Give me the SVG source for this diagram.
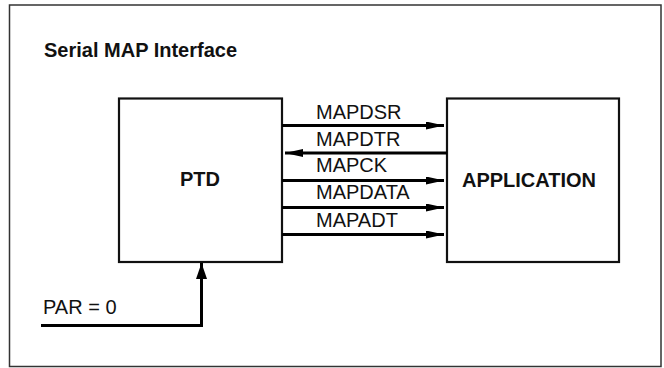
<svg xmlns="http://www.w3.org/2000/svg" width="664" height="368" viewBox="0 0 664 368">
<defs>
<style>
.lbl{font-family:"Liberation Sans",Arial,sans-serif;font-size:20px;fill:#111}
.bold{font-weight:bold}
.box{fill:#fff;stroke:#111;stroke-width:2.2}
.wire{fill:none;stroke:#000;stroke-width:3}
</style>
<marker id="ah" markerUnits="userSpaceOnUse" markerWidth="20" markerHeight="10" refX="18" refY="4" orient="auto">
<path d="M0,0 L18,4 L0,8 Z" fill="#000"/>
</marker>
<marker id="ahp" markerUnits="userSpaceOnUse" markerWidth="18" markerHeight="12" refX="16" refY="5.5" orient="auto">
<path d="M0,0 L16,5.5 L0,11 Z" fill="#000"/>
</marker>
</defs>
<rect x="0" y="0" width="664" height="368" fill="#fff"/>
<rect x="9.5" y="5" width="651.5" height="361.5" fill="none" stroke="#333" stroke-width="1.5"/>
<text class="lbl bold" x="44" y="57">Serial MAP Interface</text>
<g id="ptd">
<rect class="box" x="119" y="98.5" width="163" height="163.5"/>
<text class="lbl bold" x="200" y="186" text-anchor="middle">PTD</text>
</g>
<g id="application">
<rect class="box" x="447" y="98.5" width="172" height="163.5"/>
<text class="lbl bold" x="529" y="187" text-anchor="middle">APPLICATION</text>
</g>
<g id="connectors">
<line class="wire" x1="282" y1="125.5" x2="444" y2="125.5" marker-end="url(#ah)"/>
<line class="wire" x1="447" y1="153" x2="285" y2="153" marker-end="url(#ah)"/>
<line class="wire" x1="282" y1="180.5" x2="444" y2="180.5" marker-end="url(#ah)"/>
<line class="wire" x1="282" y1="207.5" x2="444" y2="207.5" marker-end="url(#ah)"/>
<line class="wire" x1="282" y1="234.5" x2="444" y2="234.5" marker-end="url(#ah)"/>
<polyline class="wire" points="41,325.5 201.5,325.5 201.5,263" marker-end="url(#ahp)"/>
</g>
<g id="labels">
<text class="lbl" x="316" y="119">MAPDSR</text>
<text class="lbl" x="316" y="146">MAPDTR</text>
<text class="lbl" x="316" y="172">MAPCK</text>
<text class="lbl" x="316" y="199">MAPDATA</text>
<text class="lbl" x="316" y="226.5">MAPADT</text>
<text class="lbl" x="43" y="314">PAR = 0</text>
</g>
</svg>
